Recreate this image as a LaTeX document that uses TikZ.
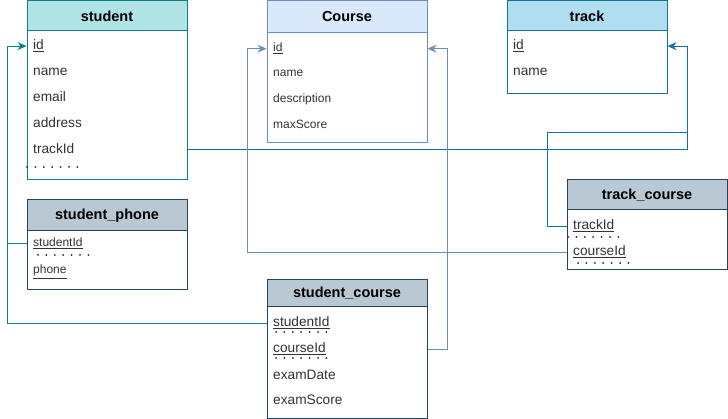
\documentclass[tikz,border=0pt]{standalone}
\usepackage{fontspec}
\setmainfont{Liberation Sans}
\usetikzlibrary{arrows.meta}

\definecolor{stFill}{HTML}{B0E3E6}
\definecolor{stLine}{HTML}{0E8088}
\definecolor{coFill}{HTML}{DAE8FC}
\definecolor{coLine}{HTML}{6C8EBF}
\definecolor{trFill}{HTML}{B1DDF0}
\definecolor{trLine}{HTML}{10739E}
\definecolor{jnFill}{HTML}{BAC8D3}
\definecolor{jnLine}{HTML}{23445D}

\tikzset{
  tablehead/.style={draw, line width=1pt, minimum width=160pt, inner sep=0pt,
    font=\fontsize{14.5}{16}\selectfont\bfseries},
  tablebody/.style={draw, line width=1pt, fill=white, minimum width=160pt, inner sep=0pt},
  field/.style={anchor=base west, inner sep=0pt, text=black!80,
    font=\fontsize{13.7}{15}\selectfont},
  smallfield/.style={field, font=\fontsize{12}{14}\selectfont},
  link/.style={line width=1pt, -{Stealth[length=9pt,width=8pt,inset=3pt]}},
  joint/.style={line width=1pt}
}

\begin{document}
\begin{tikzpicture}[x=1pt,y=-1pt]
    \useasboundingbox (0,0) rectangle (728,419);

    % Draw the tables
    \node[tablebody, draw=stLine, minimum height=149pt] (student) at (107,105.5) {};
    \node[tablehead, draw=stLine, fill=stFill, minimum height=30pt] (student-h) at (107,16) {student};

    \node[tablebody, draw=coLine, minimum height=110pt] (course) at (347,88) {};
    \node[tablehead, draw=coLine, fill=coFill, minimum height=32pt] (course-h) at (347,17) {Course};

    \node[tablebody, draw=trLine, minimum height=63pt] (track) at (587,62.5) {};
    \node[tablehead, draw=trLine, fill=trFill, minimum height=30pt] (track-h) at (587,16) {track};

    \node[tablebody, draw=jnLine, minimum height=59pt] (phone) at (107,260.5) {};
    \node[tablehead, draw=jnLine, fill=jnFill, minimum height=31pt] (phone-h) at (107,215.5) {student\_phone};

    \node[tablebody, draw=jnLine, minimum height=111pt] (stcourse) at (347,362.5) {};
    \node[tablehead, draw=jnLine, fill=jnFill, minimum height=27pt] (stcourse-h) at (347,293.5) {student\_course};

    \node[tablebody, draw=jnLine, minimum height=60pt] (trcourse) at (647,240) {};
    \node[tablehead, draw=jnLine, fill=jnFill, minimum height=30pt] (trcourse-h) at (647,195) {track\_course};

    % Fields of student
    \node[field] (st-id) at (33,50) {\underline{id}};
    \node[field] (st-name) at (33,76) {name};
    \node[field] (st-email) at (33,102) {email};
    \node[field] (st-address) at (33,128) {address};
    \node[field] (st-trackid) at (33,154) {trackId};

    % Fields of Course
    \node[smallfield] (co-id) at (273,52) {\underline{id}};
    \node[smallfield] (co-name) at (273,77) {name};
    \node[smallfield] (co-desc) at (273,103) {description};
    \node[smallfield] (co-max) at (273,129) {maxScore};

    % Fields of track
    \node[field] (tr-id) at (513,50) {\underline{id}};
    \node[field] (tr-name) at (513,76) {name};

    % Fields of student_phone
    \node[smallfield] (ph-stid) at (33,247) {\underline{studentId}};
    \node[smallfield] (ph-phone) at (33,274) {\underline{phone}};

    % Fields of student_course
    \node[field] (sc-stid) at (273,327) {\underline{studentId}};
    \node[field] (sc-coid) at (273,353) {\underline{courseId}};
    \node[field] (sc-date) at (273,379) {examDate};
    \node[field] (sc-score) at (273,404) {examScore};

    % Fields of track_course
    \node[field] (tc-trid) at (573,230) {\underline{trackId}};
    \node[field] (tc-coid) at (573,256) {\underline{courseId}};

    % Draw the key dots
    \foreach \x/\y in {27/167, 38/255, 276/332, 276/358, 568/237, 578/263}
        \foreach \i in {0,1,...,6}
            \fill[black!85] (\x+\i*8.4,\y) circle (1pt);

    % Links to student.id
    \draw[link, stLine] (phone.west |- ph-stid) -- (7,0 |- ph-stid) -- (7,0 |- st-id) -- (student.west |- st-id);
    \draw[joint, stLine] (stcourse.west |- sc-stid) -- (7,0 |- sc-stid) -- (7,0 |- ph-stid);

    % Links to track.id
    \draw[link, trLine] (student.east |- st-trackid) -- (687,0 |- st-trackid) -- (687,0 |- tr-id) -- (track.east |- tr-id);
    \draw[joint, trLine] (trcourse.west |- tc-trid) -- (547,0 |- tc-trid) -- (547,133) -- (687,133);

    % Links to Course.id
    \draw[link, coLine] (trcourse.west |- tc-coid) -- (247,0 |- tc-coid) -- (247,0 |- co-id) -- (course.west |- co-id);
    \draw[link, coLine] (stcourse.east |- sc-coid) -- (447,0 |- sc-coid) -- (447,0 |- co-id) -- (course.east |- co-id);

\end{tikzpicture}
\end{document}
